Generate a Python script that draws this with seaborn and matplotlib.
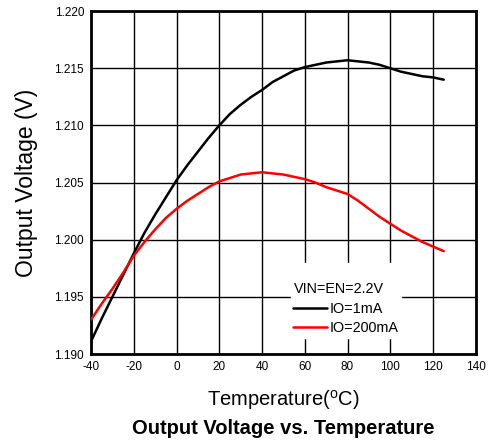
import pandas as pd
import matplotlib
matplotlib.use("Agg")
import matplotlib.pyplot as plt
import seaborn as sns

# Temperature sweep (deg C)
temp = [-40, -35, -30, -25, -20, -15, -10, -5, 0, 5, 10, 15, 20, 25, 30, 35, 40,
        45, 50, 55, 60, 65, 70, 75, 80, 85, 90, 95, 100, 105, 110, 115, 120, 125]

# Output voltage (V)
vout_1ma = [1.1911, 1.1931, 1.1950, 1.1969, 1.1988, 1.2006, 1.2022, 1.2037, 1.2052,
            1.2065, 1.2077, 1.2089, 1.2100, 1.2110, 1.2118, 1.2125, 1.2131,
            1.2138, 1.2143, 1.2148, 1.2151, 1.2153, 1.2155, 1.2156, 1.2157, 1.2156,
            1.2155, 1.2153, 1.2150, 1.2147, 1.2145, 1.2143, 1.2142, 1.2140]
vout_200ma = [1.1930, 1.1944, 1.1957, 1.1971, 1.1986, 1.1998, 1.2009, 1.2019, 1.2027,
              1.2034, 1.2040, 1.2046, 1.2051, 1.2054, 1.2057, 1.2058, 1.2059,
              1.2058, 1.2057, 1.2055, 1.2053, 1.2050, 1.2046, 1.2043, 1.2040, 1.2034,
              1.2027, 1.2020, 1.2014, 1.2008, 1.2003, 1.1998, 1.1994, 1.1990]

labels = ["IO=1mA", "IO=200mA"]
colors = ["black", "#ff0000"]

df = pd.concat([
    pd.DataFrame({"temp": temp, "vout": vout_1ma, "load": labels[0]}),
    pd.DataFrame({"temp": temp, "vout": vout_200ma, "load": labels[1]}),
])

sns.set_style("white", {"text.color": "black", "axes.labelcolor": "black",
                        "xtick.color": "black", "ytick.color": "black"})
plt.rcParams["font.family"] = ["Liberation Sans", "DejaVu Sans"]
plt.rcParams["mathtext.fontset"] = "custom"
plt.rcParams["mathtext.rm"] = "Liberation Sans"
plt.rcParams["axes.unicode_minus"] = False

fig = plt.figure(figsize=(4.88, 4.44), dpi=100)
ax = fig.add_axes([0.1865, 0.2027, 0.7885, 0.7723])

sns.lineplot(data=df, x="temp", y="vout", hue="load", palette=dict(zip(labels, colors)),
             linewidth=1.8, ax=ax, zorder=3)

ax.set_xlim(-40, 140)
ax.set_ylim(1.190, 1.220)
ax.set_xticks(range(-40, 141, 20))
ax.set_yticks([1.190, 1.195, 1.200, 1.205, 1.210, 1.215, 1.220])
ax.set_yticklabels(["1.190", "1.195", "1.200", "1.205", "1.210", "1.215", "1.220"])
ax.grid(True, color="black", linewidth=1)
ax.set_axisbelow(True)
ax.tick_params(length=0, labelsize=8.5, pad=5)
for s in ax.spines.values():
    s.set_color("black")
    s.set_linewidth(2)

ax.set_xlabel("Temperature($\\mathregular{^o}$C)", fontsize=14.5, labelpad=11)
ax.set_ylabel("Output Voltage (V)", fontsize=16.5, labelpad=12)
fig.text(0.5811, 1 - 428 / 444, "Output Voltage vs. Temperature", ha="center", va="center",
         fontsize=14.5, fontweight="bold")

leg = ax.legend(title="\nVIN=EN=2.2V", loc="lower right", bbox_to_anchor=(0.805, 0.048),
                fontsize=10.4, title_fontsize=10.4, frameon=True, fancybox=False,
                handlelength=2.3, handletextpad=0.2, borderpad=0.15, labelspacing=0.4,
                borderaxespad=0)
leg.get_frame().set_edgecolor("white")
leg.get_frame().set_alpha(1)
leg._legend_box.align = "left"

plt.savefig("out.png", dpi=100)
